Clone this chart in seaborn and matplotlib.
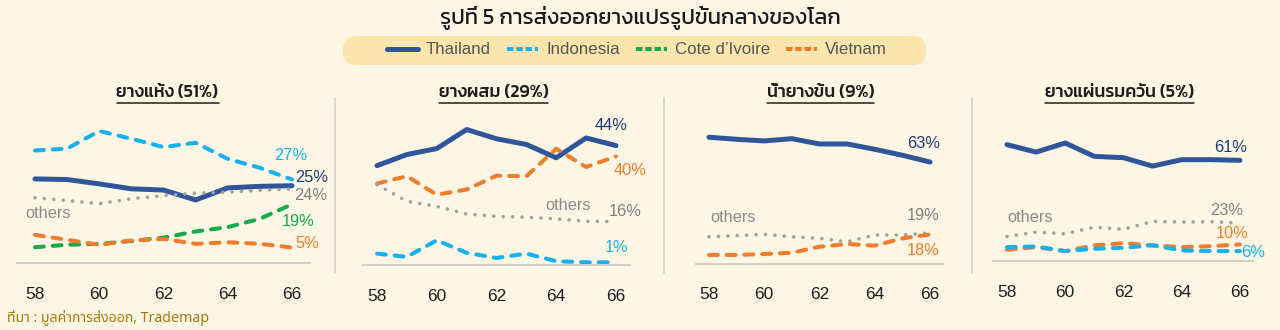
import matplotlib
matplotlib.use("Agg")
import matplotlib.pyplot as plt
from matplotlib.lines import Line2D
from matplotlib.patches import FancyBboxPatch
from matplotlib.transforms import IdentityTransform
import seaborn as sns
import pandas as pd

# ---------------------------------------------------------------- data
years = [58, 59, 60, 61, 62, 63, 64, 65, 66]
year_ticks = [58, 60, 62, 64, 66]

panel_titles = ["ยางแห้ง (51%)", "ยางผสม (29%)", "น้ำยางข้น (9%)", "ยางแผ่นรมควัน (5%)"]

# export shares (%) by exporter
dry_thailand = [27.2, 27.0, 25.6, 24.0, 23.6, 20.4, 24.3, 24.8, 25]
dry_indonesia = [36.4, 37.0, 42.7, 40.2, 37.5, 38.9, 33.7, 30.8, 27]
dry_ivorycoast = [5.1, 5.9, 6.2, 7.1, 8.2, 10.2, 11.6, 14.3, 19]
dry_vietnam = [9.1, 7.5, 5.9, 7.3, 7.8, 6.2, 6.7, 6.2, 5]
dry_others = [21.1, 20.2, 19.2, 20.8, 21.8, 22.6, 22.9, 23.5, 24]

comp_thailand = [36.6, 40.7, 42.9, 49.9, 46.5, 44.4, 39.5, 46.8, 44]
comp_vietnam = [30.0, 32.7, 25.9, 27.8, 32.9, 32.7, 42.8, 36.1, 40]
comp_others = [29.6, 23.5, 21.6, 18.8, 17.9, 17.6, 17.0, 16.1, 16]
comp_indonesia = [4.2, 3.0, 9.1, 4.5, 2.6, 4.2, 1.4, 1.0, 1]

latex_thailand = [78.4, 77.1, 76.1, 77.5, 74.2, 74.2, 70.9, 67.2, 63]
latex_others = [16.6, 17.3, 18.1, 16.6, 15.6, 13.5, 17.7, 17.7, 19]
latex_vietnam = [5.3, 5.3, 5.9, 6.7, 10.4, 12.1, 11.1, 15.6, 18]

rss_thailand = [70.5, 66.0, 71.5, 63.4, 62.6, 57.5, 61.4, 61.4, 61]
rss_others = [14.9, 17.5, 16.5, 20.5, 19.2, 24.0, 23.6, 23.8, 23]
rss_vietnam = [6.8, 8.4, 6.0, 9.5, 10.8, 9.5, 8.4, 9.0, 10]
rss_indonesia = [8.4, 8.8, 6.0, 7.4, 8.0, 9.5, 6.4, 6.0, 6]

legend_names = ["Thailand", "Indonesia", "Cote d’Ivoire", "Vietnam"]
others_name = "others"
source_text = "ที่มา : มูลค่าการส่งออก, Trademap"
title_text = "รูปที่ 5 การส่งออกยางแปรรูปขั้นกลางของโลก"

panels = [
    {"Thailand": dry_thailand, "Indonesia": dry_indonesia,
     "Cote d’Ivoire": dry_ivorycoast, "Vietnam": dry_vietnam, "others": dry_others},
    {"Thailand": comp_thailand, "Vietnam": comp_vietnam,
     "others": comp_others, "Indonesia": comp_indonesia},
    {"Thailand": latex_thailand, "others": latex_others, "Vietnam": latex_vietnam},
    {"Thailand": rss_thailand, "others": rss_others,
     "Vietnam": rss_vietnam, "Indonesia": rss_indonesia},
]

# ---------------------------------------------------------------- style
BG = "#FDF6E4"
line_color = {"Thailand": "#2F559B", "Indonesia": "#16B1EE",
              "Cote d’Ivoire": "#17AA4A", "Vietnam": "#F07D2C", "others": "#A3A19D"}
label_color = {"Thailand": "#1F3A7A", "Indonesia": "#16B1EE",
               "Cote d’Ivoire": "#17AA4A", "Vietnam": "#F07D2C", "others": "#808080"}
line_width = {"Thailand": 3.6, "Indonesia": 2.9, "Cote d’Ivoire": 2.9,
              "Vietnam": 2.9, "others": 2.6}
line_dash = {"Thailand": None, "Indonesia": (2.2, 2.2), "Cote d’Ivoire": (2.2, 2.2),
             "Vietnam": (2.2, 2.2), "others": (0.01, 2.6)}

sns.set_theme(style="white")
plt.rcParams["font.family"] = ["Liberation Sans", "Kanit", "DejaVu Sans"]
THAI = ["Kanit", "Liberation Sans", "DejaVu Sans"]
THAI_TEXT = ["Noto Sans Thai", "Liberation Sans", "DejaVu Sans"]

W, H = 1280, 330
fig = plt.figure(figsize=(W / 100, H / 100), dpi=100, facecolor=BG)


def px_box(x0, x1, ytop, ybot):
    return [x0 / W, 1 - ybot / H, (x1 - x0) / W, (ybot - ytop) / H]


# axes frame (pixels), x-limits and y-limits per panel
layout = [
    {"box": (17, 310, 110, 263), "xlim": (57.44, 66.56), "ylim": (0, 49.5)},
    {"box": (363, 630, 110, 265), "xlim": (57.53, 66.47), "ylim": (0, 57.1)},
    {"box": (696, 943, 110, 263.5), "xlim": (57.53, 66.47), "ylim": (0, 95.3)},
    {"box": (993, 1253, 110, 261), "xlim": (57.52, 66.45), "ylim": (0, 91.5)},
]

# end-value label offsets (pixels, right/up from the last point) and alignment
end_offsets = [
    {"Indonesia": (-1, 24, "center"), "Thailand": (3, 8, "left"), "others": (2, -7, "left"),
     "Cote d’Ivoire": (6, -17, "center"), "Vietnam": (3, 4, "left")},
    {"Thailand": (-5, 20, "center"), "Vietnam": (14, -14, "center"),
     "others": (9, 10.5, "center"), "Indonesia": (1, 15, "center")},
    {"Thailand": (-6, 19, "center"), "others": (-7, 17, "center"), "Vietnam": (-7, -16, "center")},
    {"Thailand": (-9, 13, "center"), "others": (-13, 13, "center"),
     "Vietnam": (-8, 11, "center"), "Indonesia": (13, -1, "center")},
]
others_pos = [(48, 214), (568, 205), (733, 218), (1030, 218)]
title_centers = [167.5, 493.5, 820.5, 1119.5]

for i, series in enumerate(panels):
    lay = layout[i]
    ax = fig.add_axes(px_box(lay["box"][0], lay["box"][1], lay["box"][2], lay["box"][3]))
    ax.set_facecolor("none")
    df = pd.DataFrame({"year": years, **series})
    for name in series:
        sns.lineplot(data=df, x="year", y=name, ax=ax, color=line_color[name],
                     linewidth=line_width[name], legend=False)
        ln = ax.lines[-1]
        if line_dash[name] is not None:
            ln.set_dashes(line_dash[name])
        ln.set_dash_capstyle("round")
        ln.set_solid_capstyle("round")
        ln.set_solid_joinstyle("round")
        ln.set_dash_joinstyle("round")
        dx, dy, ha = end_offsets[i][name]
        ax.annotate(f"{series[name][-1]:.0f}%", xy=(years[-1], series[name][-1]),
                    xytext=(dx * 0.72, dy * 0.72), textcoords="offset points",
                    ha=ha, va="center", fontsize=11.8, color=label_color[name],
                    annotation_clip=False)
    ax.set_xlim(*lay["xlim"])
    ax.set_ylim(*lay["ylim"])
    ax.set_xticks(year_ticks)
    ax.set_xticklabels([str(t) for t in year_ticks])
    ax.set_yticks([])
    ax.set_xlabel("")
    ax.set_ylabel("")
    ax.tick_params(axis="x", length=0, pad=17, labelsize=12.5, labelcolor="#1E1E1E")
    for s in ("top", "right", "left"):
        ax.spines[s].set_visible(False)
    ax.spines["bottom"].set_color("#D3D0CA")
    ax.spines["bottom"].set_linewidth(1.4)

    ox, oy = others_pos[i]
    fig.text(ox / W, 1 - oy / H, others_name, ha="center", va="center",
             fontsize=11.8, color="#8A8A8A")

    fig.text(title_centers[i] / W, 1 - 93 / H, panel_titles[i], ha="center", va="center",
             fontsize=12.8, fontweight="medium", color="#1E1E1E", family=THAI)

# panel separators
for xs in (335, 664, 972):
    fig.add_artist(Line2D([xs, xs], [H - 98, H - 273], transform=IdentityTransform(),
                          color="#D6D3CD", linewidth=1.2))

# main title
fig.text(0.5, 1 - 18 / H, title_text, ha="center", va="center", fontsize=15.8,
         fontweight="normal", color="#1A1A1A", family=THAI)

# legend pill
fig.add_artist(FancyBboxPatch((343, H - 65), 583, 29,
                              boxstyle="round,pad=0,rounding_size=14",
                              transform=IdentityTransform(), facecolor="#FCE6AE",
                              edgecolor="none", zorder=0))
handles = []
for name in legend_names:
    h = Line2D([], [], color=line_color[name], linewidth=line_width[name])
    if line_dash[name] is not None:
        h.set_dashes((1.6, 0.7))
    handles.append(h)
fig.legend(handles, legend_names, loc="center", bbox_to_anchor=(637 / W, 1 - 50 / H),
           ncol=4, frameon=False, fontsize=12.2, handlelength=1.85, handletextpad=0.45,
           columnspacing=0.95, labelcolor="#555555")

# source
fig.text(7 / W, 1 - 318 / H, source_text, ha="left", va="center", fontsize=10.2,
         fontweight="normal", color="#A47C0C", family=THAI_TEXT)

# underline panel titles
fig.canvas.draw()
renderer = fig.canvas.get_renderer()
for t in fig.texts:
    if t.get_text() in panel_titles:
        bb = t.get_window_extent(renderer)
        fig.add_artist(Line2D([bb.x0, bb.x1], [H - 102.5, H - 102.5],
                              transform=IdentityTransform(), color="#1E1E1E", linewidth=1.1))

fig.savefig("out.png", dpi=100, facecolor=BG)
